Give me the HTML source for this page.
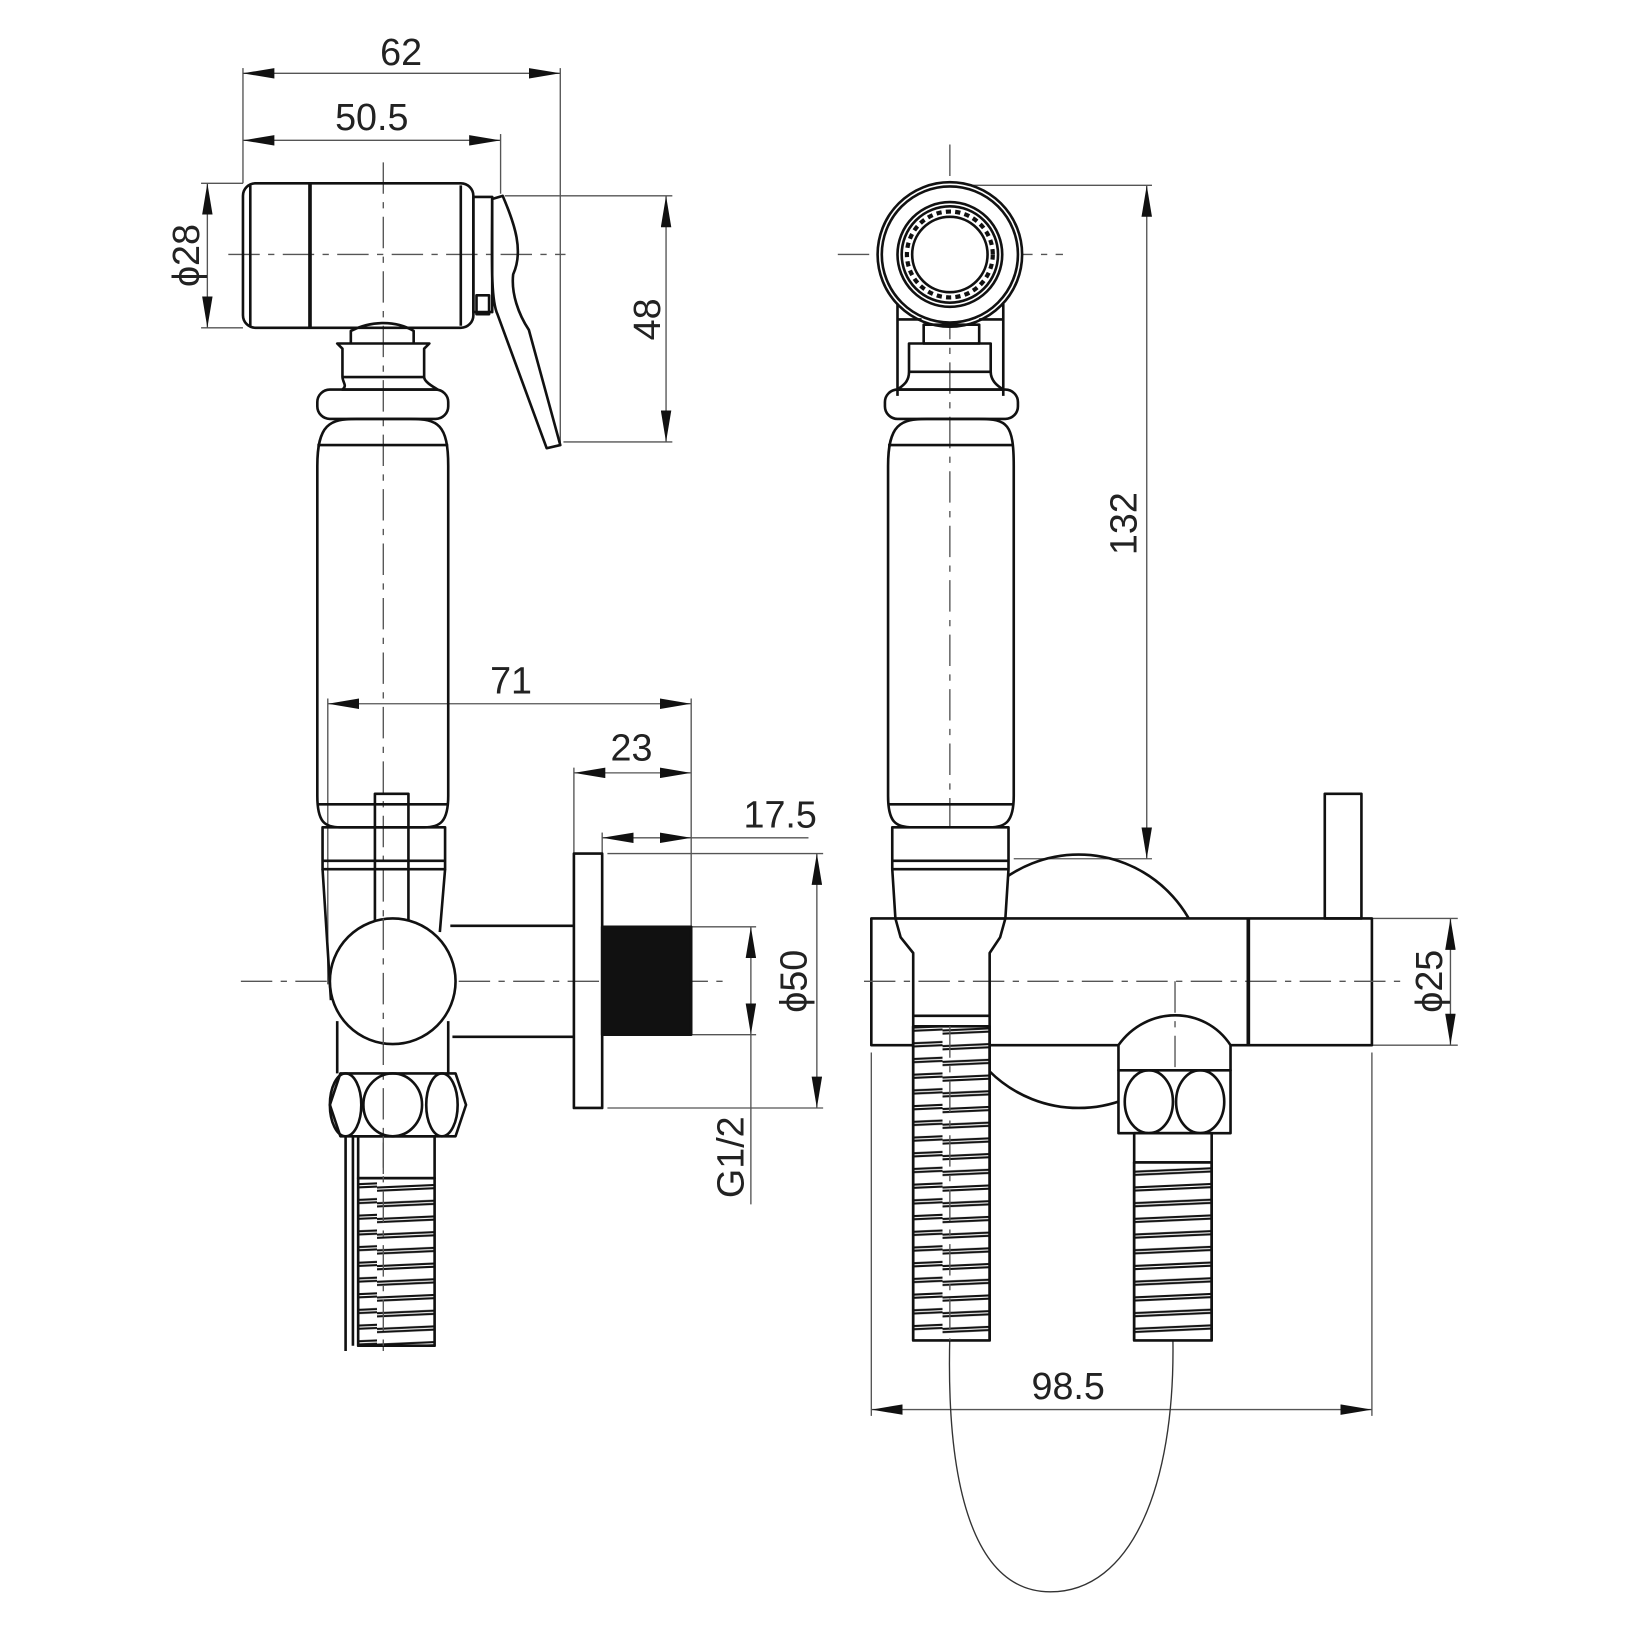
<!DOCTYPE html>
<html><head><style>html,body{margin:0;padding:0;background:#fff}svg{display:block}
text{font-family:"Liberation Sans",sans-serif;font-size:36px;fill:#222}</style></head><body>
<svg width="1640" height="1640" viewBox="0 0 1566 1566" xmlns="http://www.w3.org/2000/svg">
<defs>
<marker id="a" viewBox="0 0 30 10" refX="30" refY="5" markerWidth="30" markerHeight="10" markerUnits="userSpaceOnUse" orient="auto-start-reverse"><path d="M0,0 L30,5 L0,10z" fill="#111"/></marker>
<pattern id="coil" width="90" height="15" patternUnits="userSpaceOnUse"><rect width="90" height="15" fill="#fff"/><path d="M0,9 L90,5 M0,12 L90,8" stroke="#111" stroke-width="2" fill="none"/></pattern>
</defs>
<g fill="none" stroke="#555" stroke-width="1.3">
<g stroke-dasharray="30,8,6,8">
<line x1="366" y1="155" x2="366" y2="1290"/><line x1="218" y1="243" x2="540" y2="243"/>
<line x1="230" y1="937" x2="690" y2="937"/>
<line x1="907" y1="138" x2="907" y2="1275"/><line x1="800" y1="243" x2="1015" y2="243"/>
</g>
<line x1="232" y1="65" x2="232" y2="175"/><line x1="535" y1="65" x2="535" y2="425"/><line x1="478" y1="128" x2="478" y2="185"/>
<line x1="232" y1="70" x2="535" y2="70" marker-start="url(#a)" marker-end="url(#a)"/>
<line x1="232" y1="134" x2="478" y2="134" marker-start="url(#a)" marker-end="url(#a)"/>
<line x1="192" y1="175" x2="232" y2="175"/><line x1="192" y1="313" x2="232" y2="313"/>
<line x1="198" y1="175" x2="198" y2="313" marker-start="url(#a)" marker-end="url(#a)"/>
<line x1="482" y1="187" x2="642" y2="187"/><line x1="538" y1="422" x2="642" y2="422"/>
<line x1="636" y1="187" x2="636" y2="422" marker-start="url(#a)" marker-end="url(#a)"/>
<line x1="313" y1="667" x2="313" y2="940"/><line x1="660" y1="667" x2="660" y2="885"/><line x1="548" y1="733" x2="548" y2="815"/><line x1="575" y1="795" x2="575" y2="815"/>
<line x1="313" y1="672" x2="660" y2="672" marker-start="url(#a)" marker-end="url(#a)"/>
<line x1="548" y1="738" x2="660" y2="738" marker-start="url(#a)" marker-end="url(#a)"/>
<line x1="575" y1="800" x2="660" y2="800" marker-start="url(#a)" marker-end="url(#a)"/><line x1="660" y1="800" x2="772" y2="800"/>
<line x1="580" y1="815" x2="786" y2="815"/><line x1="580" y1="1058" x2="786" y2="1058"/>
<line x1="780" y1="815" x2="780" y2="1058" marker-start="url(#a)" marker-end="url(#a)"/>
<line x1="660" y1="885" x2="722" y2="885"/><line x1="660" y1="988" x2="722" y2="988"/>
<line x1="717" y1="885" x2="717" y2="988" marker-start="url(#a)" marker-end="url(#a)"/><line x1="717" y1="988" x2="717" y2="1150"/>
<line x1="907" y1="177" x2="1100" y2="177"/><line x1="968" y1="820" x2="1100" y2="820"/>
<line x1="1095" y1="177" x2="1095" y2="820" marker-start="url(#a)" marker-end="url(#a)"/>
<line x1="1310" y1="877" x2="1392" y2="877"/><line x1="1310" y1="998" x2="1392" y2="998"/>
<line x1="1385" y1="877" x2="1385" y2="998" marker-start="url(#a)" marker-end="url(#a)"/>
<line x1="832" y1="1005" x2="832" y2="1352"/><line x1="1310" y1="1005" x2="1310" y2="1352"/>
<line x1="832" y1="1346" x2="1310" y2="1346" marker-start="url(#a)" marker-end="url(#a)"/>
<path d="M907,1275 C903,1420 930,1520 1003,1520 C1080,1520 1122,1420 1120,1280" stroke="#333"/>
</g>
<g fill="none" stroke="#111" stroke-width="2.5" stroke-linejoin="round">
<!-- LEFT VIEW -->
<rect x="232" y="175" width="220" height="138" rx="12"/><line x1="239" y1="177" x2="239" y2="311"/><line x1="296" y1="175" x2="296" y2="313" stroke-width="3.5"/><line x1="440" y1="177" x2="440" y2="311"/>
<rect x="452" y="188" width="18" height="110"/><rect x="455" y="282" width="12" height="18"/>
<path d="M470,190 L480,187 C492,215 500,240 490,262 C488,280 495,300 505,315 L535,425 L522,428 L475,300 C468,285 470,240 470,190z"/>
<path d="M335,328 L335,316 C355,306 378,306 395,316 L395,328"/>
<path d="M322,328 L410,328 L405,333 L405,360 C405,365 415,370 418,372 L327,372 C332,368 327,365 327,360 L327,333z"/><line x1="327" y1="360" x2="405" y2="360"/>
<rect x="303" y="372" width="125" height="28" rx="12"/>
<path d="M303,445 C303,405 315,400 340,400 L392,400 C418,400 428,405 428,445 L428,760 C428,785 420,790 405,790 L325,790 C310,790 303,785 303,760z"/>
<line x1="303" y1="425" x2="428" y2="425"/><line x1="303" y1="768" x2="428" y2="768"/>
<rect x="308" y="790" width="117" height="40"/><line x1="308" y1="822" x2="425" y2="822"/>
<path d="M308,830 L316,955 M425,830 L420,890"/>
<rect x="358" y="758" width="32" height="122"/>
<path d="M430,884 L548,884 M432,990 L548,990"/>
<circle cx="375" cy="937" r="60" fill="#fff"/><line x1="366" y1="877" x2="366" y2="997" stroke="#555" stroke-width="1.3" stroke-dasharray="30,8,6,8"/>
<path d="M322,975 L322,1025 M428,975 L428,1025"/>
<path d="M325,1025 L435,1025 L445,1055 L435,1085 L325,1085 L315,1055z"/>
<ellipse cx="330" cy="1055" rx="15" ry="30"/><ellipse cx="375" cy="1055" rx="28" ry="30"/><ellipse cx="422" cy="1055" rx="15" ry="30"/>
<rect x="548" y="815" width="27" height="243"/>
<rect x="575" y="885" width="85" height="103" fill="#111"/>
<rect x="342" y="1085" width="73" height="40"/>
<rect x="342" y="1125" width="73" height="160" fill="url(#coil)"/>
<path d="M330,1085 L330,1290 M337,1085 L337,1285"/>
<line x1="366" y1="1085" x2="366" y2="1290" stroke="#555" stroke-width="1.3" stroke-dasharray="30,8,6,8"/>
<!-- RIGHT VIEW -->
<circle cx="1030" cy="937" r="121"/>
<rect x="832" y="877" width="478" height="121" fill="#fff"/>
<line x1="825" y1="937" x2="1345" y2="937" stroke="#555" stroke-width="1.3" stroke-dasharray="30,8,6,8"/>
<circle cx="907" cy="243" r="69" fill="#fff"/><circle cx="907" cy="243" r="65"/>
<circle cx="907" cy="243" r="50"/><circle cx="907" cy="243" r="46"/>
<circle cx="907" cy="243" r="41" stroke-dasharray="5,4" stroke-width="4"/><circle cx="907" cy="243" r="36"/>
<path d="M857,290 L857,378 M958,290 L958,378 M857,305 L880,305 M958,305 L935,305"/>
<rect x="882" y="310" width="53" height="18"/>
<path d="M868,328 L946,328 L946,355 C946,365 955,370 958,372 L857,372 C862,368 868,365 868,355z"/><line x1="868" y1="355" x2="946" y2="355"/>
<rect x="845" y="372" width="127" height="28" rx="12"/>
<path d="M848,445 C848,405 860,400 885,400 L935,400 C962,400 968,405 968,445 L968,760 C968,785 960,790 945,790 L872,790 C855,790 848,785 848,760z"/>
<line x1="848" y1="425" x2="968" y2="425"/><line x1="848" y1="768" x2="968" y2="768"/>
<path d="M852,790 L963,790 L963,830 L960,877 L855,877 L852,830z" fill="#fff"/><line x1="852" y1="822" x2="963" y2="822"/><line x1="852" y1="830" x2="963" y2="830"/>
<path d="M855,877 L860,895 L872,910 L872,1000 M960,877 L955,895 L945,910 L945,1000"/>
<line x1="872" y1="970" x2="945" y2="970"/><line x1="872" y1="980" x2="945" y2="980"/>
<line x1="1192" y1="877" x2="1192" y2="998" stroke-width="3.5"/>
<rect x="1265" y="758" width="35" height="119"/>
<path d="M1068,1022 L1068,998 C1095,960 1150,960 1175,998 L1175,1022z" fill="#fff"/>
<line x1="1122" y1="937" x2="1122" y2="1280" stroke="#555" stroke-width="1.3" stroke-dasharray="30,8,6,8"/>
<rect x="1068" y="1022" width="107" height="60" fill="#fff"/>
<ellipse cx="1097" cy="1052" rx="23" ry="30"/><ellipse cx="1146" cy="1052" rx="23" ry="30"/>
<rect x="1083" y="1082" width="74" height="28" fill="#fff"/>
<rect x="1083" y="1110" width="74" height="170" fill="url(#coil)"/>
<rect x="872" y="980" width="73" height="300" fill="url(#coil)"/>
<path d="M872,980 L872,1280 M945,980 L945,1280 M1083,1110 L1083,1280 M1157,1110 L1157,1280"/>
<line x1="907" y1="980" x2="907" y2="1280" stroke="#555" stroke-width="1.3" stroke-dasharray="30,8,6,8"/>
</g>
<text x="383" y="62" text-anchor="middle">62</text>
<text x="355" y="124" text-anchor="middle">50.5</text>
<text x="488" y="662" text-anchor="middle">71</text>
<text x="603" y="726" text-anchor="middle">23</text>
<text x="745" y="790" text-anchor="middle">17.5</text>
<text x="1020" y="1336" text-anchor="middle">98.5</text>
<text transform="translate(190,244) rotate(-90)" text-anchor="middle">ϕ28</text>
<text transform="translate(630,305) rotate(-90)" text-anchor="middle">48</text>
<text transform="translate(770,937) rotate(-90)" text-anchor="middle">ϕ50</text>
<text transform="translate(710,1105) rotate(-90)" text-anchor="middle">G1/2</text>
<text transform="translate(1085,500) rotate(-90)" text-anchor="middle">132</text>
<text transform="translate(1377,937) rotate(-90)" text-anchor="middle">ϕ25</text>
</svg>
</body></html>
